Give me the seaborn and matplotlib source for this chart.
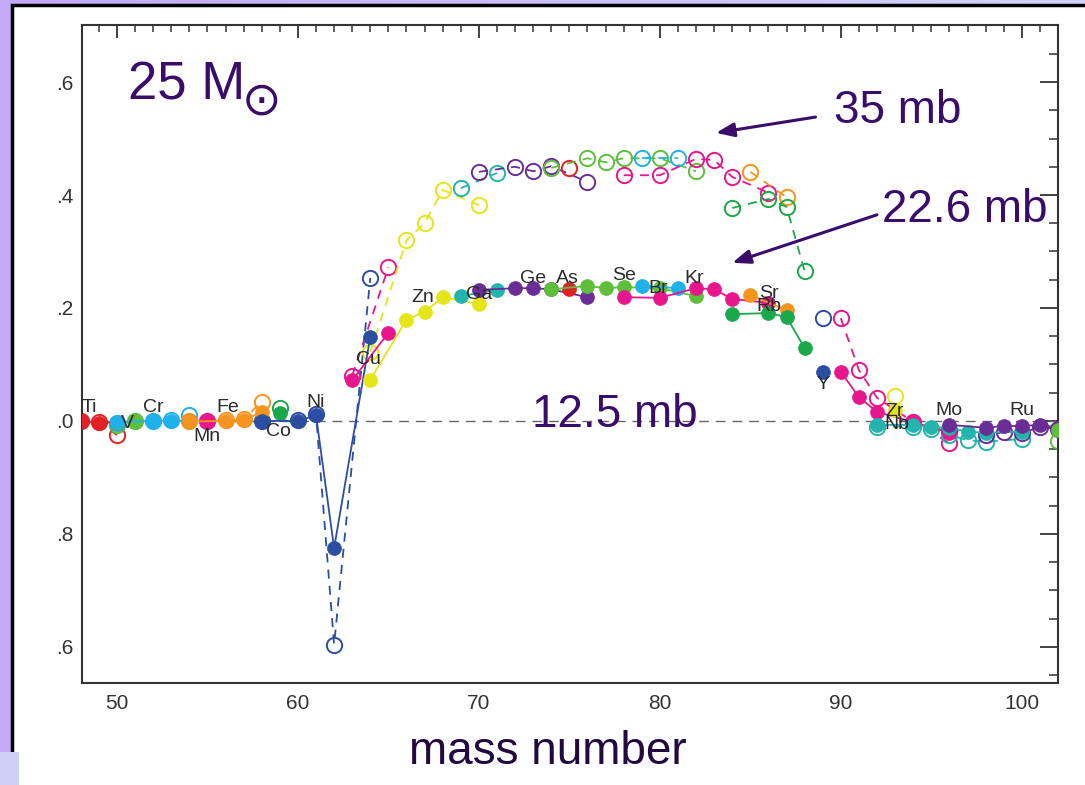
import numpy as np
import pandas as pd
import matplotlib
matplotlib.use("Agg")
import matplotlib.pyplot as plt
from matplotlib.patches import Rectangle
from matplotlib.colors import LinearSegmentedColormap
import seaborn as sns

sns.set_theme(style="white")
plt.rcParams['font.family'] = ['Liberation Sans', 'DejaVu Sans']

# ---------------- data ----------------
elements = ["Ti", "V", "Cr", "Mn", "Fe", "Co", "Ni", "Cu", "Zn", "Ga", "Ge", "As",
            "Se", "Br", "Kr", "Rb", "Sr", "Y", "Zr", "Nb", "Mo", "Ru", "Pd"]
element_colors = ["#e41f26", "#5dbf3a", "#1fb1ea", "#e8168c", "#f7941e", "#19a94a",
                  "#2b4ea3", "#e8168c", "#e5e517", "#21b5ad", "#6a2d96", "#e41f26",
                  "#5dbf3a", "#1fb1ea", "#e8168c", "#f7941e", "#19a94a", "#2b4ea3",
                  "#e8168c", "#e5e517", "#21b5ad", "#6a2d96", "#5dbf3a"]

# mass numbers of the isotopes of each element
masses = {
    "Ti": [48, 49, 50], "V": [50, 51], "Cr": [50, 52, 53, 54], "Mn": [55],
    "Fe": [54, 56, 57, 58], "Co": [59], "Ni": [58, 60, 61, 62, 64], "Cu": [63, 65],
    "Zn": [64, 66, 67, 68, 70], "Ga": [69, 71], "Ge": [70, 72, 73, 74, 76], "As": [75],
    "Se": [74, 76, 77, 78, 80, 82], "Br": [79, 81], "Kr": [78, 80, 82, 83, 84, 86],
    "Rb": [85, 87], "Sr": [84, 86, 87, 88], "Y": [89], "Zr": [90, 91, 92, 94, 96],
    "Nb": [93], "Mo": [92, 94, 95, 96, 97, 98, 100], "Ru": [96, 98, 99, 100, 101, 102],
    "Pd": [102],
}

# ratio to the 12.5 mb case, 22.6 mb (filled, solid)
ratio_226mb = {
    "Ti": [1.000, 0.997, 0.997], "V": [0.997, 1.000], "Cr": [0.998, 1.000, 1.000, 1.000],
    "Mn": [0.999], "Fe": [0.999, 1.000, 1.001, 1.016], "Co": [1.014],
    "Ni": [1.000, 1.000, 1.010, 0.775, 1.149], "Cu": [1.072, 1.156],
    "Zn": [1.073, 1.179, 1.193, 1.219, 1.207], "Ga": [1.221, 1.232],
    "Ge": [1.232, 1.235, 1.235, 1.233, 1.219], "As": [1.233],
    "Se": [1.233, 1.239, 1.235, 1.237, 1.235, 1.221], "Br": [1.239, 1.235],
    "Kr": [1.219, 1.218, 1.235, 1.233, 1.216, 1.209], "Rb": [1.223, 1.196],
    "Sr": [1.189, 1.191, 1.184, 1.129], "Y": [1.087],
    "Zr": [1.087, 1.042, 1.016, 0.998, 0.979], "Nb": [1.019],
    "Mo": [0.993, 0.993, 0.989, 0.988, 0.981, 0.979, 0.981],
    "Ru": [0.993, 0.988, 0.991, 0.991, 0.993, 0.988], "Pd": [0.984],
}

# ratio to the 12.5 mb case, 35 mb (open, dashed)
ratio_35mb = {
    "Ti": [1.000, 0.998, 0.975], "V": [0.993, 1.000], "Cr": [0.997, 1.000, 1.001, 1.011],
    "Mn": [1.000], "Fe": [1.000, 1.001, 1.003, 1.034], "Co": [1.023],
    "Ni": [1.000, 1.001, 1.012, 0.604, 1.253], "Cu": [1.080, 1.272],
    "Zn": [1.122, 1.320, 1.350, 1.409, 1.382], "Ga": [1.412, 1.439],
    "Ge": [1.441, 1.450, 1.442, 1.451, 1.423], "As": [1.448],
    "Se": [1.448, 1.465, 1.458, 1.465, 1.465, 1.442], "Br": [1.465, 1.465],
    "Kr": [1.435, 1.435, 1.464, 1.462, 1.432, 1.404], "Rb": [1.441, 1.396],
    "Sr": [1.377, 1.393, 1.379, 1.265], "Y": [1.182],
    "Zr": [1.182, 1.090, 1.041, 0.998, 0.961], "Nb": [1.044],
    "Mo": [0.990, 0.990, 0.985, 0.975, 0.966, 0.963, 0.968],
    "Ru": [0.984, 0.975, 0.980, 0.978, 0.990, 0.985], "Pd": [0.965],
}

y_ticks = [0.6, 0.8, 1.0, 1.2, 1.4, 1.6]
y_ticklabels = [".6", ".8", ".0", ".2", ".4", ".6"]
x_ticks = [50, 60, 70, 80, 90, 100]

rows = []
for el in elements:
    for a, r1, r2 in zip(masses[el], ratio_226mb[el], ratio_35mb[el]):
        rows.append({"element": el, "A": a, "ratio": r1, "case": "22.6 mb"})
        rows.append({"element": el, "A": a, "ratio": r2, "case": "35 mb"})
df = pd.DataFrame(rows)
color_of = dict(zip(elements, element_colors))

# ---------------- figure ----------------
W, H = 1085, 785
fig = plt.figure(figsize=(W / 100, H / 100), dpi=100)

# slide background
bg = fig.add_axes([0, 0, 1, 1], zorder=-10)
bg.set_xlim(0, W)
bg.set_ylim(H, 0)
bg.axis("off")
grad = np.linspace(0, 1, 256)[None, :]
cm = LinearSegmentedColormap.from_list("lav", ["#c3a9f6", "#d2d3f9"])
bg.imshow(grad, cmap=cm, extent=[0, W, H, 0], aspect="auto")
bg.add_patch(Rectangle((12, 5), W + 20, H + 20, facecolor="white",
                       edgecolor="black", linewidth=2.5))
bg.add_patch(Rectangle((0, 752), 19, 40, facecolor="#d0cff8", edgecolor="none"))

ax = fig.add_axes([82 / W, 1 - 683 / H, (1058 - 82) / W, (683 - 25) / H])
ax.set_facecolor("none")

# baseline (12.5 mb)
ax.axhline(1.0, color="#666666", lw=1.0, ls=(0, (7, 5)), zorder=1)

for el in elements:
    c = color_of[el]
    sub = df[(df.element == el) & (df.case == "35 mb")]
    sns.lineplot(data=sub, x="A", y="ratio", ax=ax, estimator=None, errorbar=None,
                 color=c, lw=1.3, linestyle=(0, (5, 4)), marker="o", markersize=11,
                 markerfacecolor="none", markeredgecolor=c, markeredgewidth=1.4,
                 zorder=2)
for el in elements:
    c = color_of[el]
    sub = df[(df.element == el) & (df.case == "22.6 mb")]
    sns.lineplot(data=sub, x="A", y="ratio", ax=ax, estimator=None, errorbar=None,
                 color=c, lw=1.3, marker="o", markersize=10,
                 markerfacecolor=c, markeredgecolor=c, markeredgewidth=0.5,
                 zorder=3)

# element labels
label_pos = {
    "Ti": (48.5, 1.023), "V": (50.6, 0.996), "Cr": (52.0, 1.023), "Mn": (55.0, 0.972),
    "Fe": (56.1, 1.023), "Co": (58.9, 0.981), "Ni": (61.0, 1.032), "Cu": (63.9, 1.108),
    "Zn": (66.9, 1.218), "Ga": (70.0, 1.223), "Ge": (73.0, 1.253), "As": (74.9, 1.253),
    "Se": (78.0, 1.258), "Br": (79.9, 1.235), "Kr": (81.9, 1.253), "Sr": (86.0, 1.225),
    "Rb": (86.0, 1.203), "Y": (89.0, 1.064), "Zr": (93.0, 1.016), "Nb": (93.1, 0.994),
    "Mo": (96.0, 1.019), "Ru": (100.0, 1.019),
}
for el, (lx, ly) in label_pos.items():
    ax.text(lx, ly, el, ha="center", va="center", fontsize=14, color="#2a2a2a", zorder=5)

ax.set_xlim(48.07, 102.0)
ax.set_ylim(0.536, 1.701)
ax.set_xticks(x_ticks)
ax.set_xticks(np.arange(49, 103, 1), minor=True)
ax.set_yticks(y_ticks)
ax.set_yticklabels(y_ticklabels)
ax.set_yticks(np.arange(0.55, 1.70, 0.05), minor=True)
ax.tick_params(axis="both", which="both", direction="in", top=True, right=True,
               colors="#333333", labelcolor="#333333", labelsize=15)
ax.tick_params(axis="x", which="major", length=9, width=1.3, pad=8)
ax.tick_params(axis="x", which="minor", length=5, width=1.1)
ax.tick_params(axis="y", which="major", length=13, width=1.3, pad=6)
ax.tick_params(axis="y", which="minor", length=6.5, width=1.1)
for s in ax.spines.values():
    s.set_color("#333333")
    s.set_linewidth(1.5)
ax.set_xlabel("")
ax.set_ylabel("")

purple = "#3a0d6b"
ax.text(77.5, 1.011, "12.5 mb", ha="center", va="center", fontsize=33, color=purple, zorder=6)
ax.text(93.15, 1.549, "35 mb", ha="center", va="center", fontsize=33, color=purple)
ax.text(96.85, 1.373, "22.6 mb", ha="center", va="center", fontsize=33, color=purple)
ax.annotate("", xy=(83.1, 1.510), xytext=(88.6, 1.538),
            arrowprops=dict(arrowstyle="-|>,head_length=0.9,head_width=0.35",
                            color=purple, lw=2.2, shrinkA=0, shrinkB=0))
ax.annotate("", xy=(84.0, 1.280), xytext=(92.0, 1.365),
            arrowprops=dict(arrowstyle="-|>,head_length=0.9,head_width=0.35",
                            color=purple, lw=2.2, shrinkA=0, shrinkB=0))

fig.text(128 / W, 1 - 100 / H, "25 M", fontsize=38, color=purple, ha="left", va="baseline")
fig.text(262 / W, 1 - 102 / H, "\u2299", fontsize=34, color=purple, ha="center",
         va="center", family="DejaVu Sans")
fig.text(548 / W, 1 - 752 / H, "mass number", fontsize=33, color="#22093f",
         ha="center", va="center")

fig.savefig("out.png", dpi=100)
